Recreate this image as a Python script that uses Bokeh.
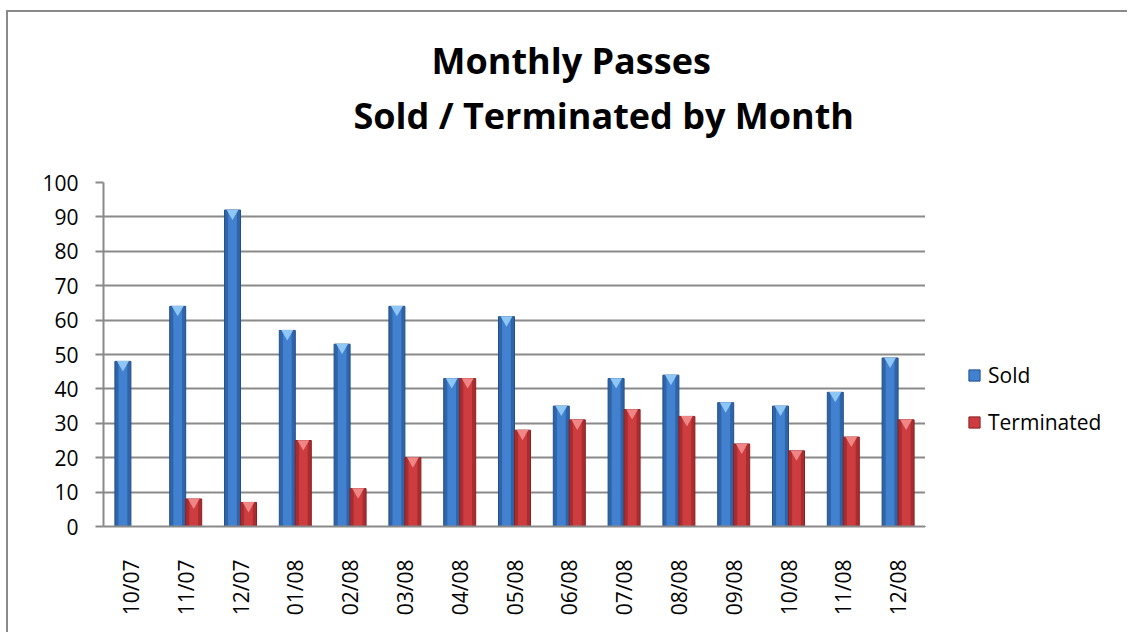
from bokeh.plotting import figure
from bokeh.layouts import row, column
from bokeh.models import FactorRange, Range1d, Legend, LegendItem, Title, ColumnDataSource, SingleIntervalTicker, Div
from bokeh.transform import dodge
from bokeh.embed import file_html
from bokeh.resources import INLINE
import math

months = ["10/07", "11/07", "12/07", "01/08", "02/08", "03/08", "04/08", "05/08",
          "06/08", "07/08", "08/08", "09/08", "10/08", "11/08", "12/08"]
sold = [48, 64, 92, 57, 53, 64, 43, 61, 35, 43, 44, 36, 35, 39, 49]
terminated = [0, 8, 7, 25, 11, 20, 43, 28, 31, 34, 32, 24, 22, 26, 31]
title_lines = ["Monthly Passes", "Sold / Terminated by Month"]
series_names = ["Sold", "Terminated"]

src = ColumnDataSource(dict(month=months, sold=sold, terminated=terminated))

FONT = "Open Sans"
GRAY = "#8a8a8a"
BLUE_EDGE, BLUE_MID, BLUE_TOP, BLUE_LINE = "#2F64A8", "#4181CF", "#8EC6F6", "#23508A"
RED_EDGE, RED_MID, RED_TOP, RED_LINE = "#A92C2F", "#CD3D40", "#F08585", "#8A2023"

p = figure(x_range=FactorRange(*months), y_range=(0, 100),
           width=917, height=620, output_backend="svg", toolbar_location=None,
           min_border_left=95, min_border_right=0, min_border_top=170, min_border_bottom=106,
           title=None)
p.outline_line_color = None

bw = 0.292
off = 0.146
# Sold bars
p.vbar(x=dodge("month", -off, range=p.x_range), top="sold", width=bw, source=src,
       fill_color=BLUE_EDGE, line_color=BLUE_LINE, line_width=1)
p.vbar(x=dodge("month", -off, range=p.x_range), top="sold", width=bw * 0.55, source=src,
       fill_color=BLUE_MID, line_color=None)
p.scatter(x=dodge("month", -off, range=p.x_range), y=dodge("sold", -0.9), source=src,
          marker="inverted_triangle", size=12, fill_color=BLUE_TOP, line_color=None)
# Terminated bars
p.vbar(x=dodge("month", off, range=p.x_range), top="terminated", width=bw, source=src,
       fill_color=RED_EDGE, line_color=RED_LINE, line_width=1)
p.vbar(x=dodge("month", off, range=p.x_range), top="terminated", width=bw * 0.55, source=src,
       fill_color=RED_MID, line_color=None)
p.scatter(x=dodge("month", off, range=p.x_range), y=dodge("terminated", -0.9),
          source=dict(month=[m for m, t in zip(months, terminated) if t > 0],
                      terminated=[t for t in terminated if t > 0]),
          marker="inverted_triangle", size=12, fill_color=RED_TOP, line_color=None)

p.x_range.range_padding = 0
p.x_range.factor_padding = 0

# axes
p.yaxis.ticker = SingleIntervalTicker(interval=10)
p.yaxis.minor_tick_line_color = None
p.yaxis.major_tick_in = 0
p.yaxis.major_tick_out = 8
p.yaxis.major_tick_line_color = GRAY
p.yaxis.major_tick_line_width = 2
p.yaxis.axis_line_color = GRAY
p.yaxis.axis_line_width = 2
p.yaxis.major_label_standoff = 17
p.yaxis.major_label_text_font = FONT
p.yaxis.major_label_text_font_size = "21px"
p.yaxis.major_label_text_color = "black"

p.xaxis.major_tick_line_color = None
p.xaxis.minor_tick_line_color = None
p.xaxis.axis_line_color = GRAY
p.xaxis.axis_line_width = 2
p.xaxis.major_label_orientation = math.pi / 2
p.xaxis.major_label_standoff = 27
p.xaxis.major_label_text_font = FONT
p.xaxis.major_label_text_font_size = "21px"
p.xaxis.major_label_text_color = "black"

p.xgrid.grid_line_color = None
p.ygrid.grid_line_color = GRAY
p.ygrid.grid_line_width = 2

# titles
t2 = Title(text=title_lines[1], align="left", offset=250, text_font=FONT,
           text_font_size="36px", text_font_style="bold", text_color="black", standoff=85)
t1 = Title(text=title_lines[0], align="left", offset=328, text_font=FONT,
           text_font_size="36px", text_font_style="bold", text_color="black", standoff=-77)
p.add_layout(t2, "above")
p.add_layout(t1, "above")

# legend panel (separate canvas so the legend is not clipped by the frame)
lg = figure(width=188, height=620, output_backend="svg", toolbar_location=None,
            x_range=Range1d(0, 1), y_range=Range1d(0, 1),
            min_border=0, x_axis_location=None, y_axis_location=None, title=None)
lg.outline_line_color = None
lg.grid.grid_line_color = None
# legend proxies, kept outside the visible range
r_sold = lg.vbar(x=[-1], top=[-1], width=0.3, fill_color=BLUE_MID, line_color=BLUE_LINE)
r_term = lg.vbar(x=[-1], top=[-1], width=0.3, fill_color=RED_MID, line_color=RED_LINE)

legend = Legend(items=[LegendItem(label=series_names[0], renderers=[r_sold]),
                       LegendItem(label=series_names[1], renderers=[r_term])],
                location=(42, 89), orientation="vertical",
                glyph_width=14, glyph_height=14, label_height=30, spacing=17,
                padding=0, margin=0, label_standoff=7,
                label_text_font=FONT, label_text_font_size="21px", label_text_color="black",
                border_line_color=None, background_fill_alpha=0)
lg.add_layout(legend)

# chart-area border (top and left edges only, as in the reference)
top_edge = Div(text="", width=1121, height=2, margin=0, styles={"background-color": GRAY})
left_edge = Div(text="", width=2, height=620, margin=0, styles={"background-color": GRAY})

layout = column(top_edge, row(left_edge, p, lg, spacing=0), spacing=0)
layout.styles = {"margin-top": "10px", "margin-left": "6px"}

open("out.html", "w").write(file_html(layout, INLINE))
